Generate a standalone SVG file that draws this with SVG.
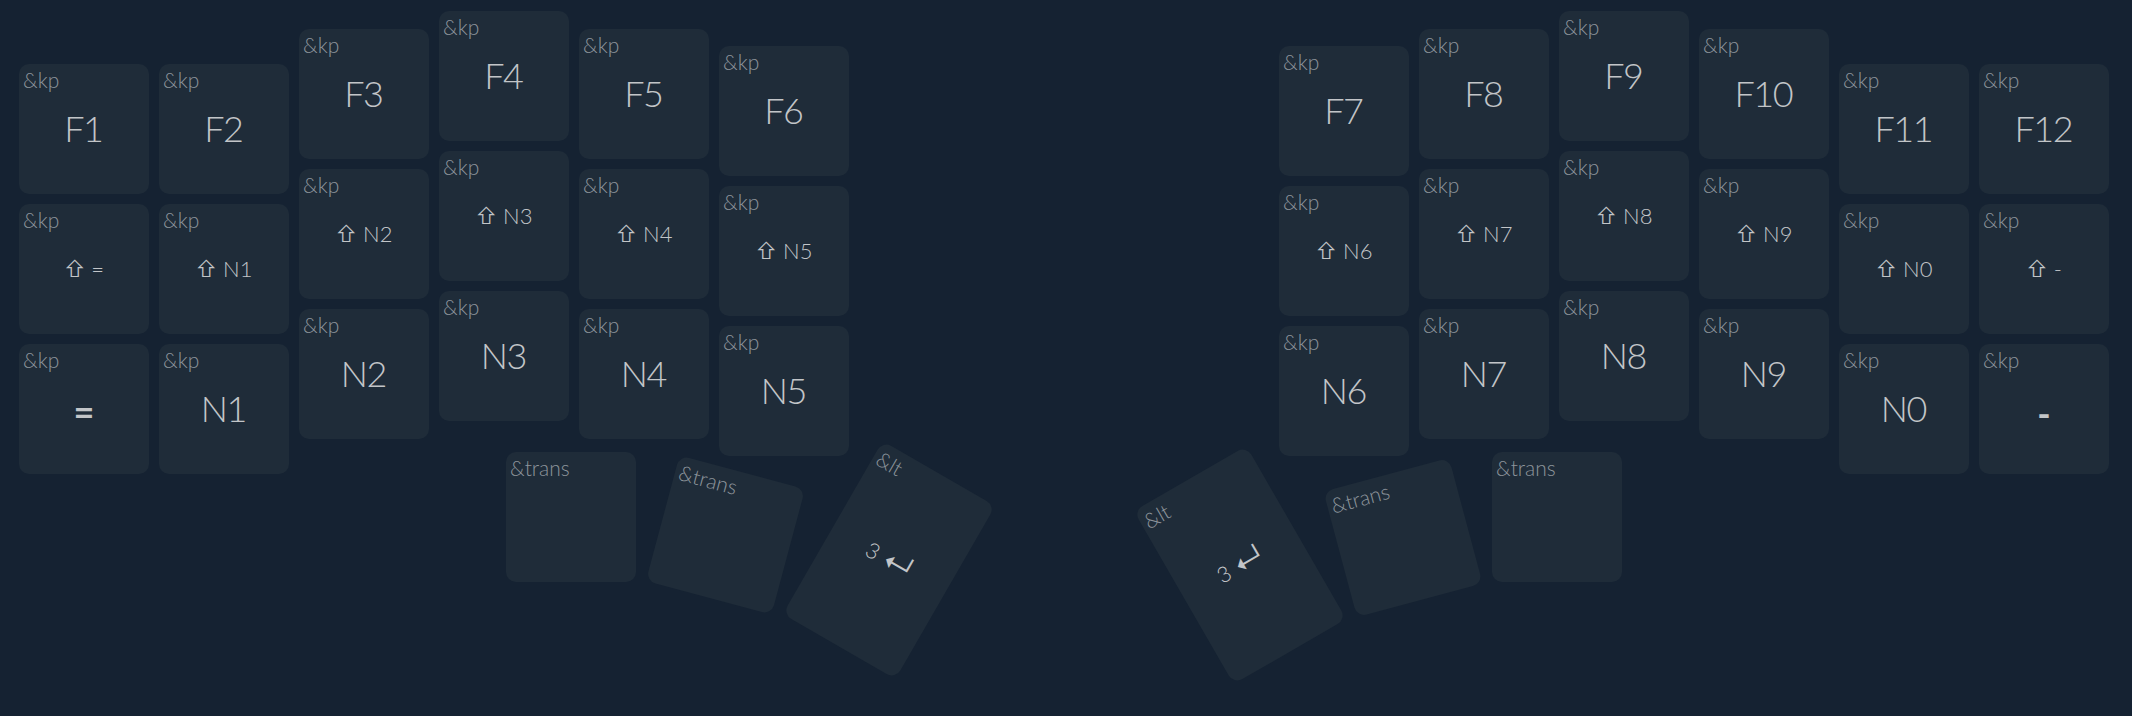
<svg xmlns="http://www.w3.org/2000/svg" width="2132" height="716" viewBox="0 0 2132 716">
<style>
text{font-family:"Lato","Noto Sans","DejaVu Sans",sans-serif;font-weight:300}
.k{fill:#1f2c39}
.l{font-size:21px;fill:#8d949b}
.m{font-size:36px;fill:#c2c5c8;text-anchor:middle;letter-spacing:-1.5px;transform:translateX(-0.75px)}
.s{font-size:22px;fill:#c2c5c8;text-anchor:middle}
.g{font-family:"Inter",sans-serif;font-size:22px}
.e{font-family:"Inter",sans-serif;font-size:32px}
.b{font-weight:700;letter-spacing:0;transform:none}
</style>
<rect width="2132" height="716" fill="#152232"/>
<defs><rect id="key" class="k" width="130" height="130" rx="10"/></defs>
<g id="connectors"/>
<g id="k-F1" transform="translate(19,64)"><use href="#key"/><text class="l" x="4" y="24">&amp;kp</text><text class="m" x="65" y="78">F1</text></g>
<g id="k-F2" transform="translate(159,64)"><use href="#key"/><text class="l" x="4" y="24">&amp;kp</text><text class="m" x="65" y="78">F2</text></g>
<g id="k-F3" transform="translate(299,29)"><use href="#key"/><text class="l" x="4" y="24">&amp;kp</text><text class="m" x="65" y="78">F3</text></g>
<g id="k-F4" transform="translate(439,11)"><use href="#key"/><text class="l" x="4" y="24">&amp;kp</text><text class="m" x="65" y="78">F4</text></g>
<g id="k-F5" transform="translate(579,29)"><use href="#key"/><text class="l" x="4" y="24">&amp;kp</text><text class="m" x="65" y="78">F5</text></g>
<g id="k-F6" transform="translate(719,46)"><use href="#key"/><text class="l" x="4" y="24">&amp;kp</text><text class="m" x="65" y="78">F6</text></g>
<g id="k-F7" transform="translate(1279,46)"><use href="#key"/><text class="l" x="4" y="24">&amp;kp</text><text class="m" x="65" y="78">F7</text></g>
<g id="k-F8" transform="translate(1419,29)"><use href="#key"/><text class="l" x="4" y="24">&amp;kp</text><text class="m" x="65" y="78">F8</text></g>
<g id="k-F9" transform="translate(1559,11)"><use href="#key"/><text class="l" x="4" y="24">&amp;kp</text><text class="m" x="65" y="78">F9</text></g>
<g id="k-F10" transform="translate(1699,29)"><use href="#key"/><text class="l" x="4" y="24">&amp;kp</text><text class="m" x="65" y="78">F10</text></g>
<g id="k-F11" transform="translate(1839,64)"><use href="#key"/><text class="l" x="4" y="24">&amp;kp</text><text class="m" x="65" y="78">F11</text></g>
<g id="k-F12" transform="translate(1979,64)"><use href="#key"/><text class="l" x="4" y="24">&amp;kp</text><text class="m" x="65" y="78">F12</text></g>
<g id="k-S-EQ" transform="translate(19,204)"><use href="#key"/><text class="l" x="4" y="24">&amp;kp</text><text class="s" x="65" y="73"><tspan class="g">⇧</tspan> =</text></g>
<g id="k-S-N1" transform="translate(159,204)"><use href="#key"/><text class="l" x="4" y="24">&amp;kp</text><text class="s" x="65" y="73"><tspan class="g">⇧</tspan> N1</text></g>
<g id="k-S-N2" transform="translate(299,169)"><use href="#key"/><text class="l" x="4" y="24">&amp;kp</text><text class="s" x="65" y="73"><tspan class="g">⇧</tspan> N2</text></g>
<g id="k-S-N3" transform="translate(439,151)"><use href="#key"/><text class="l" x="4" y="24">&amp;kp</text><text class="s" x="65" y="73"><tspan class="g">⇧</tspan> N3</text></g>
<g id="k-S-N4" transform="translate(579,169)"><use href="#key"/><text class="l" x="4" y="24">&amp;kp</text><text class="s" x="65" y="73"><tspan class="g">⇧</tspan> N4</text></g>
<g id="k-S-N5" transform="translate(719,186)"><use href="#key"/><text class="l" x="4" y="24">&amp;kp</text><text class="s" x="65" y="73"><tspan class="g">⇧</tspan> N5</text></g>
<g id="k-S-N6" transform="translate(1279,186)"><use href="#key"/><text class="l" x="4" y="24">&amp;kp</text><text class="s" x="65" y="73"><tspan class="g">⇧</tspan> N6</text></g>
<g id="k-S-N7" transform="translate(1419,169)"><use href="#key"/><text class="l" x="4" y="24">&amp;kp</text><text class="s" x="65" y="73"><tspan class="g">⇧</tspan> N7</text></g>
<g id="k-S-N8" transform="translate(1559,151)"><use href="#key"/><text class="l" x="4" y="24">&amp;kp</text><text class="s" x="65" y="73"><tspan class="g">⇧</tspan> N8</text></g>
<g id="k-S-N9" transform="translate(1699,169)"><use href="#key"/><text class="l" x="4" y="24">&amp;kp</text><text class="s" x="65" y="73"><tspan class="g">⇧</tspan> N9</text></g>
<g id="k-S-N0" transform="translate(1839,204)"><use href="#key"/><text class="l" x="4" y="24">&amp;kp</text><text class="s" x="65" y="73"><tspan class="g">⇧</tspan> N0</text></g>
<g id="k-S-MINUS" transform="translate(1979,204)"><use href="#key"/><text class="l" x="4" y="24">&amp;kp</text><text class="s" x="65" y="73"><tspan class="g">⇧</tspan> -</text></g>
<g id="k-EQ" transform="translate(19,344)"><use href="#key"/><text class="l" x="4" y="24">&amp;kp</text><text class="m b" x="65" y="81">=</text></g>
<g id="k-N1" transform="translate(159,344)"><use href="#key"/><text class="l" x="4" y="24">&amp;kp</text><text class="m" x="65" y="78">N1</text></g>
<g id="k-N2" transform="translate(299,309)"><use href="#key"/><text class="l" x="4" y="24">&amp;kp</text><text class="m" x="65" y="78">N2</text></g>
<g id="k-N3" transform="translate(439,291)"><use href="#key"/><text class="l" x="4" y="24">&amp;kp</text><text class="m" x="65" y="78">N3</text></g>
<g id="k-N4" transform="translate(579,309)"><use href="#key"/><text class="l" x="4" y="24">&amp;kp</text><text class="m" x="65" y="78">N4</text></g>
<g id="k-N5" transform="translate(719,326)"><use href="#key"/><text class="l" x="4" y="24">&amp;kp</text><text class="m" x="65" y="78">N5</text></g>
<g id="k-N6" transform="translate(1279,326)"><use href="#key"/><text class="l" x="4" y="24">&amp;kp</text><text class="m" x="65" y="78">N6</text></g>
<g id="k-N7" transform="translate(1419,309)"><use href="#key"/><text class="l" x="4" y="24">&amp;kp</text><text class="m" x="65" y="78">N7</text></g>
<g id="k-N8" transform="translate(1559,291)"><use href="#key"/><text class="l" x="4" y="24">&amp;kp</text><text class="m" x="65" y="78">N8</text></g>
<g id="k-N9" transform="translate(1699,309)"><use href="#key"/><text class="l" x="4" y="24">&amp;kp</text><text class="m" x="65" y="78">N9</text></g>
<g id="k-N0" transform="translate(1839,344)"><use href="#key"/><text class="l" x="4" y="24">&amp;kp</text><text class="m" x="65" y="78">N0</text></g>
<g id="k-MINUS" transform="translate(1979,344)"><use href="#key"/><text class="l" x="4" y="24">&amp;kp</text><text class="m b" x="65" y="83">-</text></g>
<g id="k-T1" transform="translate(506,452)"><use href="#key"/><text class="l" x="4" y="24">&amp;trans</text></g>
<g id="k-T2" transform="translate(725.5,535) rotate(15) translate(-65,-65)"><use href="#key"/><text class="l" x="4" y="24">&amp;trans</text></g>
<g id="k-T3" transform="translate(889,560) rotate(30)"><rect class="k" x="-65" y="-100" width="130" height="200" rx="10"/><text class="l" x="-61" y="-76">&amp;lt</text><text class="s" x="0" y="8">3 <tspan class="e" dy="3">↵</tspan></text></g>
<g id="k-T4" transform="translate(1240,565) rotate(-30)"><rect class="k" x="-65" y="-100" width="130" height="200" rx="10"/><text class="l" x="-61" y="-76">&amp;lt</text><text class="s" x="0" y="8">3 <tspan class="e" dy="3">↵</tspan></text></g>
<g id="k-T5" transform="translate(1403,537.5) rotate(-15) translate(-65,-65)"><use href="#key"/><text class="l" x="4" y="24">&amp;trans</text></g>
<g id="k-T6" transform="translate(1492,452)"><use href="#key"/><text class="l" x="4" y="24">&amp;trans</text></g>
</svg>
